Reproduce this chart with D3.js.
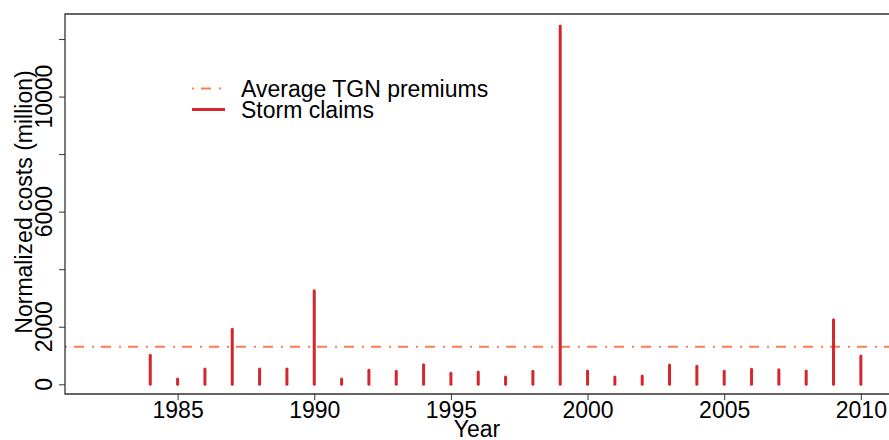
<!DOCTYPE html>
<html>
<head>
<meta charset="utf-8">
<script src="https://cdn.jsdelivr.net/npm/d3@7"></script>
<style>
  html, body { margin: 0; padding: 0; background: #fff; }
  svg { display: block; font-family: "Liberation Sans", Arial, sans-serif; }
</style>
</head>
<body>
<svg id="chart" width="889" height="440"></svg>
<script>
// storm claims per year (normalized, million) + average premium line
const years = [1984, 1985, 1986, 1987, 1988, 1989, 1990, 1991, 1992, 1993, 1994, 1995, 1996, 1997,
  1998, 1999, 2000, 2001, 2002, 2003, 2004, 2005, 2006, 2007, 2008, 2009, 2010];
const claims = [1010, 180, 530, 1910, 530, 530, 3250, 185, 490, 450, 680, 385, 430, 255,
  450, 12450, 460, 255, 290, 670, 625, 450, 520, 510, 460, 2240, 985];
const avgPremium = 1305;

const xTicks = [1985, 1990, 1995, 2000, 2005, 2010];
const yTicks = [0, 2000, 4000, 6000, 8000, 10000, 12000];
const yLabels = [0, 2000, 6000, 10000];

const CLAIM_COLOR = "#d5262d";
const PREMIUM_COLOR = "#fc7c4f";
const DOTDASH = "2,7,10,8";

const plot = { left: 65, right: 889, top: 14, bottom: 394 };

const svg = d3.select("#chart");

const x = d3.scaleLinear().domain([1980.88, 2011.03]).range([plot.left, plot.right]);
const y = d3.scaleLinear().domain([-337, 12870]).range([plot.bottom, plot.top]);

// average premium (behind the bars)
svg.append("line")
  .attr("x1", plot.left).attr("x2", plot.right)
  .attr("y1", y(avgPremium)).attr("y2", y(avgPremium))
  .attr("stroke", PREMIUM_COLOR)
  .attr("stroke-width", 2.2)
  .attr("stroke-dasharray", DOTDASH);

// claims as vertical sticks
svg.append("g")
  .selectAll("line")
  .data(years.map((yr, i) => ({ yr, v: claims[i] })))
  .join("line")
  .attr("x1", (d) => x(d.yr)).attr("x2", (d) => x(d.yr))
  .attr("y1", y(0)).attr("y2", (d) => y(d.v))
  .attr("stroke", CLAIM_COLOR)
  .attr("stroke-width", 3)
  .attr("stroke-linecap", "round");

// frame: left, top, bottom
const frame = "#333";
svg.append("path")
  .attr("d", `M${plot.right},${plot.top}H${plot.left}V${plot.bottom}H${plot.right}`)
  .attr("fill", "none")
  .attr("stroke", frame)
  .attr("stroke-width", 1.3);

// x axis
const xAxis = svg.append("g").attr("transform", `translate(0,${plot.bottom})`)
  .call(d3.axisBottom(x).tickValues(xTicks).tickFormat(d3.format("d")).tickSize(6).tickPadding(2));
xAxis.select(".domain").remove();
xAxis.selectAll("line").attr("stroke", frame);
xAxis.selectAll("text").attr("font-size", 23).attr("fill", "#000")
  .attr("font-family", "Liberation Sans, Arial, sans-serif");

// y axis (labels rotated like base R)
const yAxis = svg.append("g").attr("transform", `translate(${plot.left},0)`)
  .call(d3.axisLeft(y).tickValues(yTicks).tickSize(6).tickFormat(() => ""));
yAxis.select(".domain").remove();
yAxis.selectAll("line").attr("stroke", frame);

svg.append("g")
  .selectAll("text")
  .data(yLabels)
  .join("text")
  .attr("transform", (d) => `translate(52,${y(d)}) rotate(-90)`)
  .attr("text-anchor", "middle")
  .attr("font-size", 23)
  .attr("fill", "#000")
  .text((d) => d);

// axis titles
svg.append("text")
  .attr("x", (plot.left + plot.right) / 2)
  .attr("y", 437)
  .attr("text-anchor", "middle")
  .attr("font-size", 23)
  .text("Year");

svg.append("text")
  .attr("transform", `translate(32,202) rotate(-90)`)
  .attr("text-anchor", "middle")
  .attr("font-size", 23)
  .text("Normalized costs (million)");

// legend
const legend = svg.append("g");
legend.append("line")
  .attr("x1", 192).attr("x2", 223).attr("y1", 88.5).attr("y2", 88.5)
  .attr("stroke", PREMIUM_COLOR).attr("stroke-width", 2.2)
  .attr("stroke-dasharray", DOTDASH);
legend.append("line")
  .attr("x1", 192).attr("x2", 225).attr("y1", 109.5).attr("y2", 109.5)
  .attr("stroke", CLAIM_COLOR).attr("stroke-width", 3);
legend.append("text").attr("x", 241).attr("y", 96.5).attr("font-size", 23).text("Average TGN premiums");
legend.append("text").attr("x", 241).attr("y", 117.5).attr("font-size", 23).text("Storm claims");
</script>
</body>
</html>
